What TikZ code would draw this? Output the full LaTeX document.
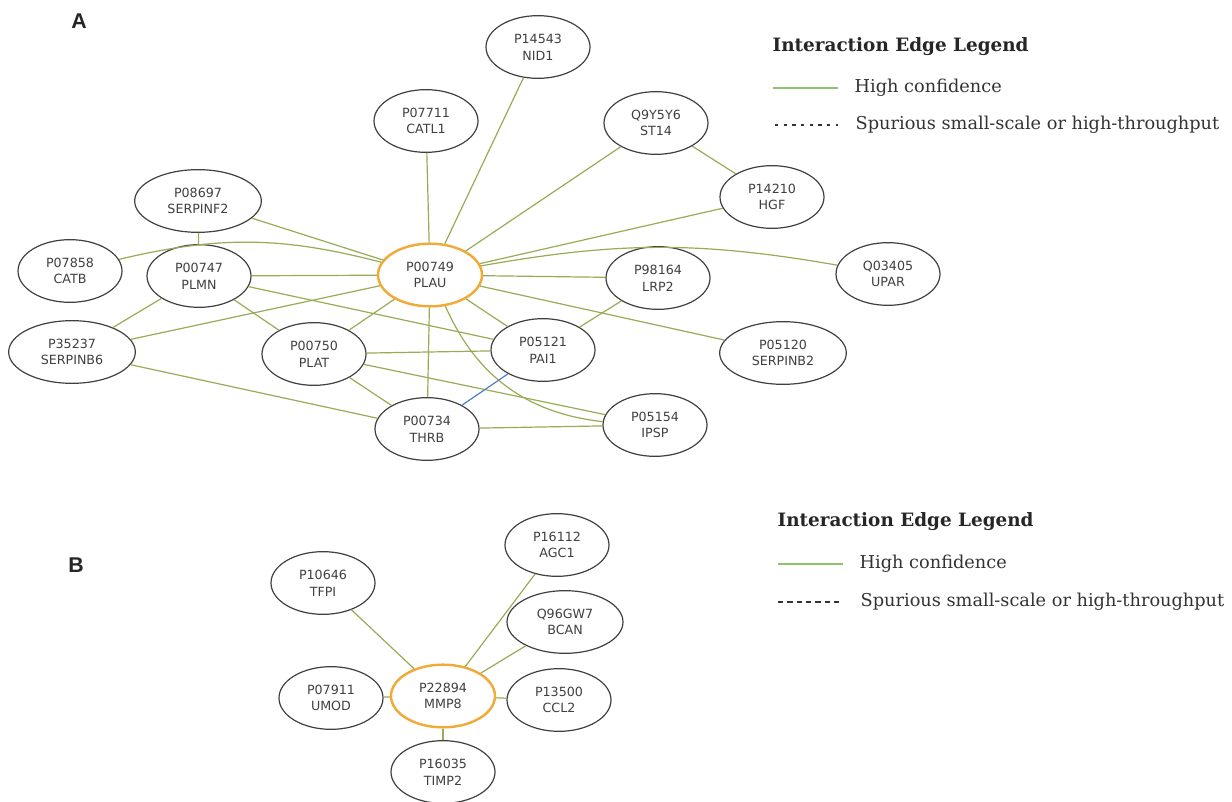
\documentclass[tikz,border=0pt]{standalone}
\usepackage{fontspec}
\setmainfont{DejaVu Serif}
\newfontfamily\protfont{DejaVu Sans}
\newfontfamily\panelfont{Liberation Sans}
\usetikzlibrary{shapes.geometric}
\definecolor{edgegreen}{HTML}{98AC55}
\definecolor{legendgreen}{HTML}{8DC26F}
\definecolor{huborange}{HTML}{F2A935}
\definecolor{pathblue}{HTML}{4F7FC2}

\tikzset{
	protein/.style={ellipse,draw=black!75,line width=0.9pt,fill=white,inner sep=0pt,
		minimum width=78pt,minimum height=47pt,align=center,text=black!75,
		font=\protfont\fontsize{9.5}{12.5}\selectfont},
	wideprotein/.style={protein,minimum width=95pt},
	hub/.style={protein,draw=huborange,line width=1.8pt},
	link/.style={draw=edgegreen,line width=0.9pt},
	legtitle/.style={anchor=west,font=\bfseries\fontsize{13.8}{16}\selectfont,text=black!85},
	legtext/.style={anchor=west,font=\fontsize{13.3}{15}\selectfont,text=black!80},
	panel/.style={font=\panelfont\bfseries\fontsize{16}{18}\selectfont,text=black!85}
}

\begin{document}
\begin{tikzpicture}[x=0.75pt,y=-0.75pt]
	\useasboundingbox[fill=white] (0,0) rectangle (1232,802);

	% panel A
	\node[panel] (labA) at (79,21) {A};
	\node[protein] (nid1) at (538,47) {P14543\\NID1};
	\node[protein] (catl1) at (426,121) {P07711\\CATL1};
	\node[protein] (st14) at (656,123) {Q9Y5Y6\\ST14};
	\node[protein] (hgf) at (772,197) {P14210\\HGF};
	\node[wideprotein] (serpinf2) at (198,201) {P08697\\SERPINF2};
	\node[protein] (catb) at (70,271) {P07858\\CATB};
	\node[protein] (plmn) at (199,276) {P00747\\PLMN};
	\node[hub] (plau) at (430,275) {P00749\\PLAU};
	\node[protein] (lrp2) at (658,278) {P98164\\LRP2};
	\node[protein] (upar) at (888,274) {Q03405\\UPAR};
	\node[wideprotein] (serpinb6) at (72,352) {P35237\\SERPINB6};
	\node[protein] (plat) at (314,354) {P00750\\PLAT};
	\node[protein] (pai1) at (543,350) {P05121\\PAI1};
	\node[wideprotein] (serpinb2) at (783,353) {P05120\\SERPINB2};
	\node[protein] (ipsp) at (655,425) {P05154\\IPSP};
	\node[protein] (thrb) at (427,429) {P00734\\THRB};

	\foreach \a/\b in {plau/catl1,plau/nid1,plau/st14,plau/hgf,plau/lrp2,plau/serpinb2,
		plau/pai1,plau/thrb,plau/plat,plau/serpinb6,plau/plmn,plau/serpinf2,st14/hgf,
		serpinf2/plmn,plmn/serpinb6,plmn/plat,plmn/pai1,serpinb6/thrb,plat/pai1,
		plat/thrb,plat/ipsp,pai1/lrp2,thrb/ipsp}
		\draw[link] (\a) -- (\b);
	\draw[link] (catb) to[bend left=14] (plau);
	\draw[link] (plau) to[bend left=10] (upar);
	\draw[link] (plau) to[bend right=30] (ipsp);
	\draw[draw=pathblue,line width=0.9pt] (pai1) -- (thrb);

	% legend A
	\node[legtitle] (legA) at (768,47) {Interaction Edge Legend};
	\coordinate (hiA1) at (773,88);
	\coordinate (hiA2) at (838,88);
	\draw[legendgreen,line width=1.5pt] (hiA1) -- (hiA2);
	\node[legtext] (hiA) at (850,88) {High confidence};
	\coordinate (spA1) at (775,125);
	\coordinate (spA2) at (838,125);
	\draw[black!80,line width=1.5pt,dash pattern=on 2.5pt off 4pt] (spA1) -- (spA2);
	\node[legtext] (spA) at (851,125) {Spurious small-scale or high-throughput};

	% panel B
	\node[panel] (labB) at (76,565) {B};
	\node[protein] (tfpi) at (323,583) {P10646\\TFPI};
	\node[protein] (agc1) at (557,545) {P16112\\AGC1};
	\node[protein,minimum width=87pt] (bcan) at (565,622) {Q96GW7\\BCAN};
	\node[protein] (umod) at (331,698) {P07911\\UMOD};
	\node[hub] (mmp8) at (443,696) {P22894\\MMP8};
	\node[protein] (ccl2) at (559,700) {P13500\\CCL2};
	\node[protein] (timp2) at (443,772) {P16035\\TIMP2};

	\foreach \b in {tfpi,agc1,bcan,umod,ccl2,timp2}
		\draw[link] (mmp8) -- (\b);

	% legend B
	\node[legtitle] (legB) at (773,522) {Interaction Edge Legend};
	\coordinate (hiB1) at (778,564);
	\coordinate (hiB2) at (843,564);
	\draw[legendgreen,line width=1.5pt] (hiB1) -- (hiB2);
	\node[legtext] (hiB) at (855,564) {High confidence};
	\coordinate (spB1) at (778,602);
	\coordinate (spB2) at (843,602);
	\draw[black!80,line width=1.2pt,dash pattern=on 4pt off 3pt] (spB1) -- (spB2);
	\node[legtext] (spB) at (856,602) {Spurious small-scale or high-throughput};
\end{tikzpicture}
\end{document}
